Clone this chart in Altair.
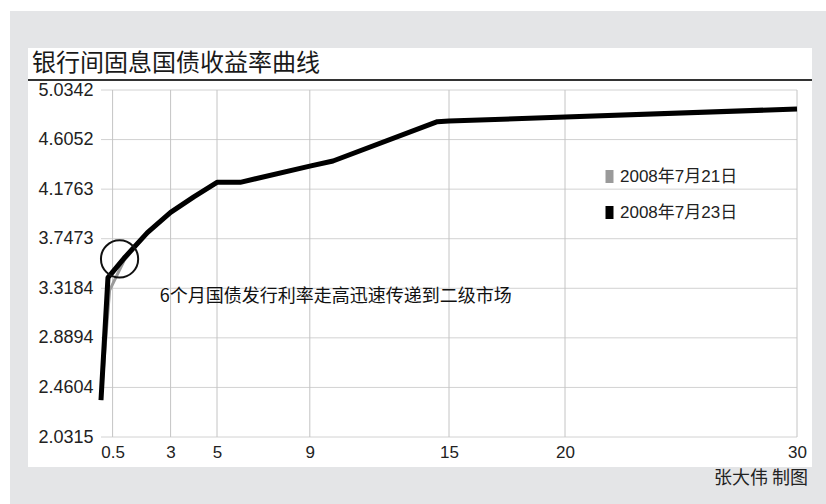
import math
import altair as alt
import pandas as pd

# ---------------- data ----------------
title_text = "银行间固息国债收益率曲线"
note_text = "6个月国债发行利率走高迅速传递到二级市场"
credit_text = "张大伟 制图"

series_names = ["2008年7月21日", "2008年7月23日"]
series_colors = ["#9a9a9a", "#000000"]

maturity_0721 = [0, 0.37, 1, 2, 3, 4, 5, 6, 9, 10, 14.5, 15, 20, 30]
yield_0721 = [2.35, 3.30, 3.56, 3.80, 3.975, 4.11, 4.235, 4.235, 4.375, 4.42, 4.76, 4.765, 4.80, 4.87]

maturity_0723 = [0, 0.3, 1, 2, 3, 4, 5, 6, 9, 10, 14.5, 15, 20, 30]
yield_0723 = [2.35, 3.41, 3.58, 3.80, 3.975, 4.11, 4.235, 4.235, 4.375, 4.42, 4.76, 4.765, 4.80, 4.87]

x_ticks = [0.5, 3, 5, 9, 15, 20, 30]
y_ticks = [2.0315, 2.4604, 2.8894, 3.3184, 3.7473, 4.1763, 4.6052, 5.0342]

circle_x = [0.8]
circle_y = [3.572]
note_x = [2.53]
note_y = [3.243]

# ---------------- tables ----------------
lines_df = pd.concat([
    pd.DataFrame({"m": maturity_0721, "v": yield_0721, "s": series_names[0]}),
    pd.DataFrame({"m": maturity_0723, "v": yield_0723, "s": series_names[1]}),
])
gray_df = lines_df[lines_df.s == series_names[0]]
black_df = lines_df[lines_df.s == series_names[1]]
xt_df = pd.DataFrame({"m": x_ticks})
yt_df = pd.DataFrame({"v": y_ticks})
circle_df = pd.DataFrame({"m": circle_x, "v": circle_y})
note_df = pd.DataFrame({"m": note_x, "v": note_y, "t": [note_text]})
one = pd.DataFrame({"a": [1]})

W, H = 696, 347
PL, PT = 101, 90
FULL_W, FULL_H = 826, 504

xscale = alt.Scale(domain=[0, 30], nice=False, zero=False)
yscale = alt.Scale(domain=[2.0315, 5.0342], nice=False, zero=False)
xaxis = alt.Axis(values=x_ticks, format="~g", domain=False, ticks=False, grid=False,
                 labelFontSize=17, labelColor="#222222", labelFont="Liberation Sans",
                 labelPadding=7, title=None, labelFlush=False, labelOverlap=False, zindex=1)
yaxis = alt.Axis(values=y_ticks, format=".4f", domain=False, ticks=False, grid=False,
                 labelFontSize=18, labelColor="#222222", labelFont="Liberation Sans",
                 labelPadding=8, title=None, labelFlush=False, labelOverlap=False, zindex=1)


def X(f="m"):
    return alt.X(f"{f}:Q", scale=xscale, axis=xaxis)


def Y(f="v"):
    return alt.Y(f"{f}:Q", scale=yscale, axis=yaxis)


color = alt.Color("s:N", scale=alt.Scale(domain=series_names, range=series_colors),
                  legend=alt.Legend(title=None, orient="none", legendX=498, legendY=76,
                                    symbolType="M0,-1L0,1", symbolSize=169,
                                    symbolStrokeWidth=8, labelFontSize=17,
                                    labelFont="Liberation Sans, Noto Sans CJK SC",
                                    labelColor="#222222", labelOffset=0, rowPadding=-9,
                                    padding=0))

# ---------------- decorations ----------------
gray_bg = alt.Chart(one).mark_rect(color="#e4e5e7").encode(
    x=alt.value(10 - PL), x2=alt.value(FULL_W - PL), y=alt.value(11 - PT), y2=alt.value(FULL_H - PT))
white_panel = alt.Chart(one).mark_rect(color="#ffffff").encode(
    x=alt.value(28 - PL), x2=alt.value(812 - PL), y=alt.value(48 - PT), y2=alt.value(467 - PT))
title_rule = alt.Chart(one).mark_rule(color="#333333", strokeWidth=2).encode(
    x=alt.value(28 - PL), x2=alt.value(812 - PL), y=alt.value(80 - PT))
title = alt.Chart(one).mark_text(text=title_text, align="left", baseline="middle",
                                 font="Noto Sans CJK SC", fontSize=24, color="#1a1a1a").encode(
    x=alt.value(32 - PL), y=alt.value(64 - PT))
credit = alt.Chart(one).mark_text(text=credit_text, align="right", baseline="middle",
                                  font="Noto Sans CJK SC", fontSize=18, color="#222222").encode(
    x=alt.value(808 - PL), y=alt.value(479 - PT))

# ---------------- grid ----------------
vgrid = alt.Chart(xt_df).mark_rule(color="#c4c4c4", strokeWidth=1).encode(x=X())
hgrid = alt.Chart(yt_df).mark_rule(color="#d2d2d2", strokeWidth=1).encode(y=Y())

# ---------------- data marks ----------------
gray_line = alt.Chart(gray_df).mark_line(strokeWidth=3).encode(x=X(), y=Y(), color=color)
black_line = alt.Chart(black_df).mark_line(strokeWidth=5, strokeJoin="round").encode(x=X(), y=Y(), color=color)

circle = alt.Chart(circle_df).mark_point(shape="circle", filled=False, color="#111111",
                                         strokeWidth=2, opacity=1, size=math.pi * 21 * 21).encode(x=X(), y=Y())
note = alt.Chart(note_df).mark_text(align="left", baseline="middle", font="Noto Sans CJK SC",
                                    fontSize=18, color="#111111").encode(x=X(), y=Y(), text="t:N")

chart = alt.layer(
    gray_bg, white_panel, title_rule, title, credit,
    hgrid, vgrid, gray_line, black_line, circle, note
).properties(
    width=W, height=H,
    autosize=alt.AutoSizeParams(type="none"),
    padding={"left": PL, "top": PT, "right": FULL_W - PL - W, "bottom": FULL_H - PT - H},
).configure(background="#ffffff").configure_view(stroke=None)

chart.save("out.html", embed_options={"renderer": "svg", "actions": False})
